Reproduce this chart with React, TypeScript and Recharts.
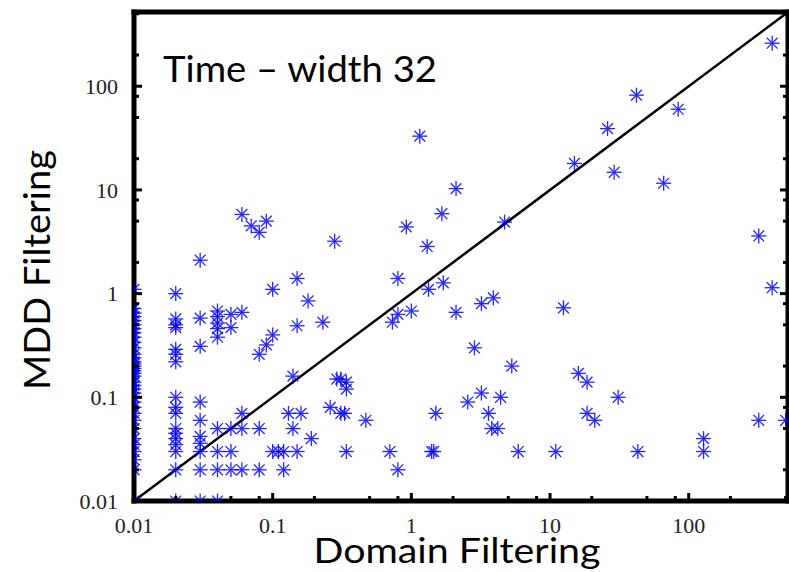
import { ReferenceLine, Scatter, ScatterChart, XAxis, YAxis } from "recharts";

const AXIS_MIN = 0.01;
const AXIS_MAX = 520;
const MAJOR_TICKS = [0.01, 0.1, 1, 10, 100];
const MINOR_TICKS = [0.02, 0.05, 0.08, 0.2, 0.5, 0.8, 2, 5, 8, 20, 50, 80, 200, 500];
const ALL_TICKS = [...MAJOR_TICKS, ...MINOR_TICKS].sort((a, b) => a - b);

// runs that hit the timer floor on the domain side
const FLOOR_DOMAIN = 0.01;
const FLOOR_MDD = [
  0.01, 0.02, 0.025, 0.03, 0.035, 0.04, 0.05, 0.06, 0.07, 0.08, 0.09, 0.1,
  0.11, 0.12, 0.13, 0.14, 0.16, 0.17, 0.18, 0.19, 0.2, 0.21, 0.22, 0.24,
  0.26, 0.3, 0.34, 0.38, 0.42, 0.46, 0.5, 0.55, 0.6, 0.65, 0.72, 1.1,
];

// next few timer steps, one column each
const STEP_DOMAIN = [0.02, 0.03, 0.04, 0.05];
const STEP_MDD = [
  [0.01, 0.02, 0.03, 0.035, 0.04, 0.045, 0.05, 0.07, 0.08, 0.1, 0.22, 0.26, 0.29, 0.47, 0.5, 0.57, 1.0],
  [0.01, 0.02, 0.03, 0.036, 0.042, 0.06, 0.09, 0.31, 0.58, 2.1],
  [0.01, 0.02, 0.03, 0.05, 0.38, 0.46, 0.52, 0.6, 0.68],
  [0.02, 0.03, 0.05, 0.47, 0.63],
];

// everything else, paired by index
const DOMAIN = [
  0.06, 0.06, 0.06, 0.06, 0.06,
  0.07,
  0.08, 0.08, 0.08, 0.08,
  0.09, 0.09,
  0.1, 0.1, 0.1,
  0.11, 0.12, 0.12, 0.13, 0.14, 0.14,
  0.15, 0.15, 0.15,
  0.16, 0.18, 0.19, 0.23, 0.26, 0.28, 0.29,
  0.31, 0.31, 0.33,
  0.34, 0.34, 0.34,
  0.47, 0.7, 0.73,
  0.8, 0.8, 0.8,
  0.92, 1.0, 1.15, 1.3, 1.33, 1.4, 1.45, 1.5, 1.66, 1.7,
  2.1, 2.1,
  2.55, 2.85,
  3.2, 3.2,
  3.6, 3.8, 3.9, 4.2, 4.4, 4.7, 5.3, 5.9,
  11, 12.5, 15, 16,
  18.5, 18.5,
  21, 26, 29, 31, 42, 43, 66, 84,
  128, 128,
  320, 320,
  400, 400,
  500,
];
const MDD = [
  0.02, 0.05, 0.07, 0.66, 5.8,
  4.5,
  0.02, 0.05, 0.26, 3.9,
  0.32, 5.0,
  0.03, 0.4, 1.1,
  0.03, 0.02, 0.03, 0.07, 0.05, 0.16,
  0.03, 0.49, 1.4,
  0.07, 0.85, 0.04, 0.53, 0.08, 3.2, 0.15,
  0.07, 0.15, 0.07,
  0.03, 0.12, 0.14,
  0.06, 0.03, 0.53,
  0.02, 0.63, 1.4,
  4.4, 0.68, 33, 2.85, 1.1, 0.03, 0.03, 0.07, 5.9, 1.27,
  10.3, 0.66,
  0.09, 0.3,
  0.8, 0.11,
  0.07, 0.05, 0.91, 0.05, 0.1, 4.9, 0.2, 0.03,
  0.03, 0.73, 18, 0.17,
  0.14, 0.07,
  0.06, 39, 14.8, 0.1, 82, 0.03, 11.6, 60,
  0.04, 0.03,
  3.6, 0.06,
  260, 1.14,
  0.06,
];

const points = [
  ...FLOOR_MDD.map((y) => ({ x: FLOOR_DOMAIN, y })),
  ...STEP_DOMAIN.flatMap((x, i) => STEP_MDD[i].map((y) => ({ x, y }))),
  ...DOMAIN.map((x, i) => ({ x, y: MDD[i] })),
];

const BLUE = "#0000ff";
const TICK_FONT = "'Liberation Serif', 'Times New Roman', serif";
const TITLE_FONT = "Lato, 'Open Sans', sans-serif";

function Asterisk({ cx, cy }: { cx?: number; cy?: number }) {
  if (cx == null || cy == null) return null;
  const r = 7.5;
  const d = r * 0.72;
  return (
    <g stroke={BLUE} strokeWidth={1.3} opacity={0.85}>
      <line x1={cx - r} y1={cy} x2={cx + r} y2={cy} />
      <line x1={cx} y1={cy - r} x2={cx} y2={cy + r} />
      <line x1={cx - d} y1={cy - d} x2={cx + d} y2={cy + d} />
      <line x1={cx - d} y1={cy + d} x2={cx + d} y2={cy - d} />
    </g>
  );
}

// inward tick marks, labels only on the decades
function makeTick(side: "bottom" | "left" | "top" | "right", margin: number, labels: boolean) {
  return (props: any) => {
    const { x, y, payload } = props;
    const v = payload.value;
    const major = MAJOR_TICKS.includes(v);
    const len = major ? 8 : 5;
    let ax = x;
    let ay = y;
    let tx = x;
    let ty = y;
    if (side === "bottom") { ay = y - margin; ty = ay - len; }
    if (side === "top") { ay = y + margin; ty = ay + len; }
    if (side === "left") { ax = x + margin; tx = ax + len; }
    if (side === "right") { ax = x - margin; tx = ax - len; }
    return (
      <g>
        <line x1={ax} y1={ay} x2={tx} y2={ty} stroke="#000" strokeWidth={3} />
        {labels && major && side === "bottom" && (
          <text x={x} y={y} dy="0.71em" textAnchor="middle" fill="#222" fontSize={22} fontFamily={TICK_FONT}>
            {String(v)}
          </text>
        )}
        {labels && major && side === "left" && (
          <text x={x} y={y} dy="0.35em" textAnchor="end" fill="#222" fontSize={22} fontFamily={TICK_FONT}>
            {String(v)}
          </text>
        )}
      </g>
    );
  };
}

const frame = { stroke: "#000", strokeWidth: 5, strokeLinecap: "square" as const };

export default function App() {
  return (
    <div style={{ position: "absolute", left: 0, top: 0, width: 789, height: 572, background: "#fff" }}>
      <ScatterChart width={789} height={572} margin={{ top: 11, right: 0, bottom: 0, left: 0 }}>
        <XAxis
          type="number"
          dataKey="x"
          scale="log"
          domain={[AXIS_MIN, AXIS_MAX]}
          allowDataOverflow
          ticks={ALL_TICKS}
          interval={0}
          height={71}
          tickSize={0}
          tickMargin={16}
          tickLine={false}
          axisLine={frame}
          tick={makeTick("bottom", 16, true)}
        />
        <XAxis
          xAxisId="top"
          orientation="top"
          type="number"
          scale="log"
          domain={[AXIS_MIN, AXIS_MAX]}
          allowDataOverflow
          ticks={ALL_TICKS}
          interval={0}
          height={1}
          tickSize={0}
          tickMargin={0}
          tickLine={false}
          axisLine={frame}
          tick={makeTick("top", 0, false)}
        />
        <YAxis
          type="number"
          dataKey="y"
          scale="log"
          domain={[AXIS_MIN, AXIS_MAX]}
          allowDataOverflow
          ticks={ALL_TICKS}
          interval={0}
          width={134}
          tickSize={0}
          tickMargin={16}
          tickLine={false}
          axisLine={frame}
          tick={makeTick("left", 16, true)}
        />
        <YAxis
          yAxisId="right"
          orientation="right"
          type="number"
          scale="log"
          domain={[AXIS_MIN, AXIS_MAX]}
          allowDataOverflow
          ticks={ALL_TICKS}
          interval={0}
          width={1}
          tickSize={0}
          tickMargin={0}
          tickLine={false}
          axisLine={frame}
          tick={makeTick("right", 0, false)}
        />
        <ReferenceLine
          segment={[
            { x: AXIS_MIN, y: AXIS_MIN },
            { x: AXIS_MAX, y: AXIS_MAX },
          ]}
          stroke="#000"
          strokeWidth={2.5}
          ifOverflow="visible"
        />
        <Scatter data={points} isAnimationActive={false} shape={(p: any) => <Asterisk cx={p.cx} cy={p.cy} />} />
      </ScatterChart>
      <svg width={789} height={572} style={{ position: "absolute", left: 0, top: 0, pointerEvents: "none" }}>
        <text x={163} y={82} fontSize={37} fontFamily={TITLE_FONT} fill="#000" textLength={274} lengthAdjust="spacingAndGlyphs">
          Time – width 32
        </text>
        <text x={457} y={563} fontSize={35} fontFamily={TITLE_FONT} fill="#000" textAnchor="middle" textLength={287} lengthAdjust="spacingAndGlyphs">
          Domain Filtering
        </text>
        <text
          x={0}
          y={0}
          transform="translate(50, 270) rotate(-90)"
          fontSize={37}
          fontFamily={TITLE_FONT}
          fill="#000"
          textAnchor="middle"
          textLength={240}
          lengthAdjust="spacingAndGlyphs"
        >
          MDD Filtering
        </text>
      </svg>
    </div>
  );
}
